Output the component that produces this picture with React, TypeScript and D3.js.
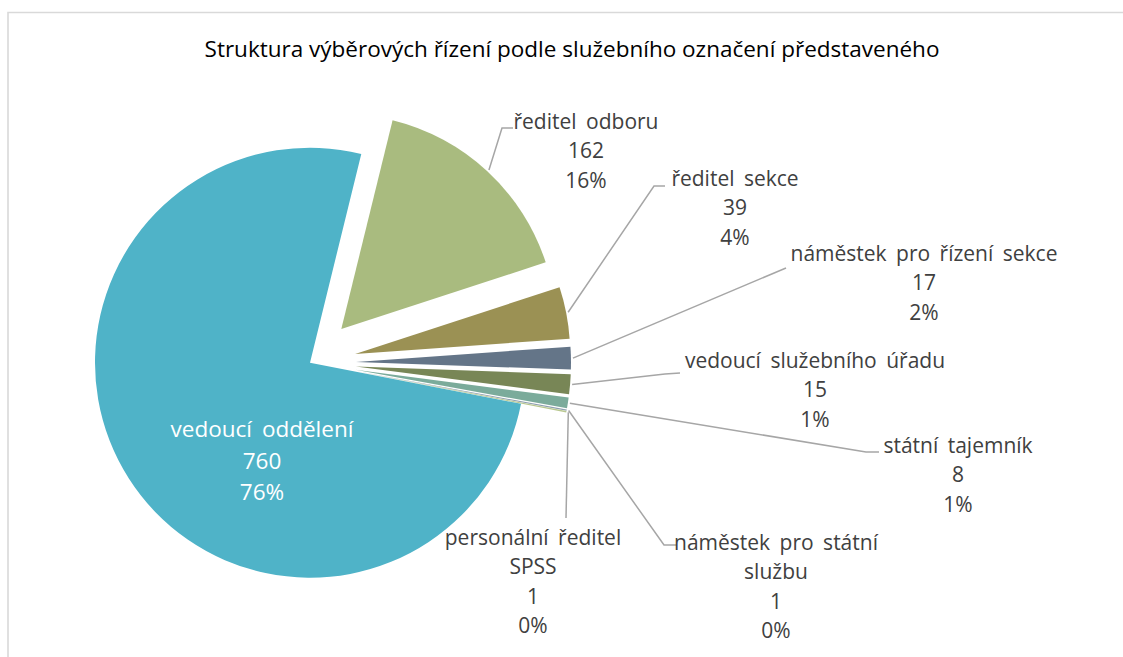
import React from "react";
import * as d3 from "d3";

// ---- data ----
const categories = [
  "ředitel odboru",
  "ředitel sekce",
  "náměstek pro řízení sekce",
  "vedoucí služebního úřadu",
  "státní tajemník",
  "náměstek pro státní službu",
  "personální ředitel SPSS",
  "vedoucí oddělení",
];
const values = [162, 39, 17, 15, 8, 1, 1, 760];
const labelLines = [
  ["ředitel odboru"],
  ["ředitel sekce"],
  ["náměstek pro řízení sekce"],
  ["vedoucí služebního úřadu"],
  ["státní tajemník"],
  ["náměstek pro státní", "službu"],
  ["personální ředitel", "SPSS"],
  ["vedoucí oddělení"],
];
const title = "Struktura výběrových řízení podle služebního označení představeného";

// ---- styles / layout ----
const colors = ["#a9bb7f", "#9b9154", "#647588", "#788656", "#7bab9b", "#8e9fb0", "#b9c890", "#4fb3c8"];
const explode = [46, 46, 46, 46, 46, 46, 46, 0];
// label anchor (center x, first baseline y)
const labelPos: [number, number][] = [
  [586, 129], [735, 186], [924, 261], [815, 368], [958, 453], [776, 550], [533, 545], [262, 437],
];
// leader elbow points (null = no leader)
const leaderPts: ([number, number][] | null)[] = [
  [[502, 128], [513, 128]],
  [[654, 186], [665, 186]],
  [[786, 268]],
  [[665, 374], [680, 373]],
  [[866, 452], [879, 452]],
  [[664, 545], [677, 545]],
  [[566, 518]],
  null,
];

const W = 1123, H = 657;
const cx = 310, cy = 362.7, R = 215;
const FONT = "'Open Sans', 'Noto Sans', sans-serif";

export default function App() {
  const total = d3.sum(values);
  const pie = d3.pie<number>().sort(null).startAngle((13.8 * Math.PI) / 180).endAngle((13.8 * Math.PI) / 180 + 2 * Math.PI);
  const arcs = pie(values);
  const arcGen = d3.arc<d3.PieArcDatum<number>>().innerRadius(0).outerRadius(R);
  const fmtPct = (v: number) => `${Math.round((v / total) * 100)}%`;

  return (
    <svg width={W} height={H} style={{ position: "absolute", left: 0, top: 0, background: "#fff" }}>
      <rect x={0} y={0} width={W} height={H} fill="#fff" />
      <path d={`M8,${H} L8,12.5 L${W},12.5`} fill="none" stroke="#d9d9d9" strokeWidth={1.6} />
      <text x={572} y={57} textAnchor="middle" fontFamily={FONT} fontSize={22.5} fill="#000">
        {title}
      </text>
      <g>
        {arcs.map((a, i) => {
          const mid = (a.startAngle + a.endAngle) / 2;
          const dx = Math.sin(mid) * explode[i];
          const dy = -Math.cos(mid) * explode[i];
          return (
            <path
              key={categories[i]}
              d={arcGen(a) || ""}
              transform={`translate(${cx + dx},${cy + dy})`}
              fill={colors[i]}
            />
          );
        })}
      </g>
      <g>
        {arcs.map((a, i) => {
          const pts = leaderPts[i];
          if (!pts) return null;
          const mid = (a.startAngle + a.endAngle) / 2;
          const rr = R + explode[i] + 2;
          const start: [number, number] = [cx + Math.sin(mid) * rr, cy - Math.cos(mid) * rr];
          const line = d3.line()([start, ...pts]);
          return <path key={"l" + i} d={line || ""} fill="none" stroke="#a6a6a6" strokeWidth={1.5} />;
        })}
      </g>
      <g>
        {arcs.map((a, i) => {
          const [lx, ly] = labelPos[i];
          const inside = i === values.length - 1;
          const lines = [...labelLines[i], String(values[i]), fmtPct(values[i])];
          const step = inside ? 31.5 : 29.3;
          return (
            <text
              key={"t" + i}
              x={lx}
              y={ly}
              textAnchor="middle"
              fontFamily={FONT}
              fontSize={inside ? 22.5 : 21}
              wordSpacing={4}
              fill={inside ? "#fff" : "#404040"}
            >
              {lines.map((s, k) => (
                <tspan key={k} x={lx} y={ly + k * step}>
                  {s}
                </tspan>
              ))}
            </text>
          );
        })}
      </g>
    </svg>
  );
}
